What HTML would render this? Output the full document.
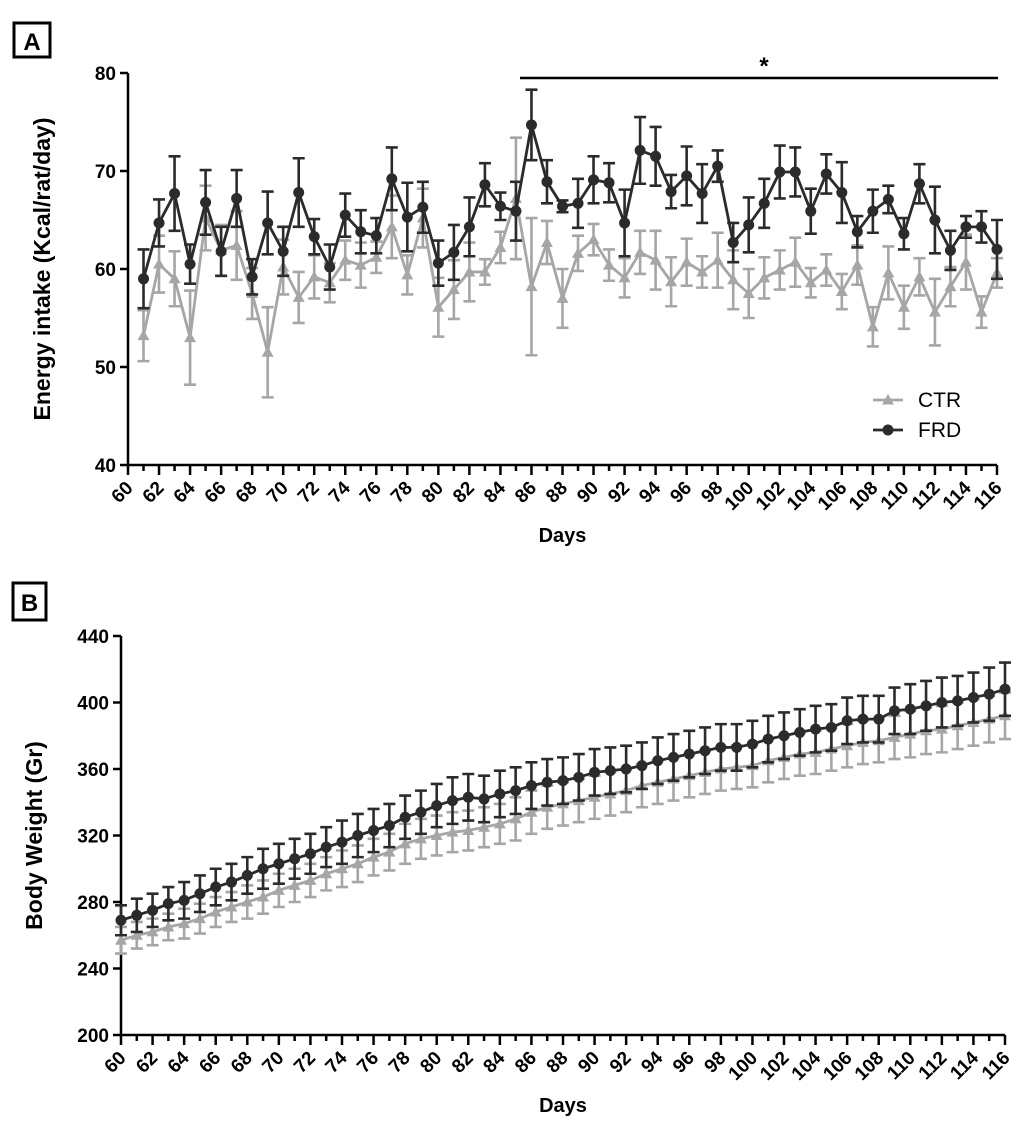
<!DOCTYPE html>
<html><head><meta charset="utf-8">
<style>
body{margin:0;background:#fff;font-family:"Liberation Sans",Arial,sans-serif;}
svg text{font-family:"Liberation Sans",Arial,sans-serif;font-weight:bold;}
</style></head>
<body>
<svg id="svg" width="1024" height="1132" viewBox="0 0 1024 1132" xmlns="http://www.w3.org/2000/svg">
<g><rect x="14" y="23" width="36" height="34" fill="none" stroke="#000" stroke-width="3"/><text x="32" y="50" font-size="24" text-anchor="middle">A</text></g>
<g><rect x="13" y="583" width="33" height="37" fill="none" stroke="#000" stroke-width="3"/><text x="29.5" y="611" font-size="24" text-anchor="middle">B</text></g>
<g id="chartA"></g>
<g id="chartB"></g>
</svg>
<script>
const daysA = [];for(let d=61;d<=116;d++)daysA.push(d);
const frdIntake = [59.0,64.7,67.7,60.5,66.8,61.8,67.2,59.2,64.7,61.8,67.8,63.3,60.2,65.5,63.8,63.4,69.2,65.3,66.3,60.6,61.7,64.3,68.6,66.4,65.9,74.7,68.9,66.4,66.7,69.1,68.8,64.7,72.1,71.5,67.9,69.5,67.7,70.5,62.7,64.5,66.7,69.9,69.9,65.9,69.7,67.8,63.8,65.9,67.1,63.6,68.7,65.0,61.9,64.3,64.3,62.0];
const frdIntakeErr = [3.0,2.4,3.8,2.0,3.3,2.5,2.9,1.8,3.2,2.5,3.5,1.8,2.3,2.2,2.2,1.8,3.2,3.5,2.6,2.3,2.8,3.0,2.2,1.4,3.0,3.6,2.2,0.6,2.5,2.4,2.0,3.4,3.4,3.0,1.7,3.0,3.0,1.6,2.0,2.8,2.5,2.7,2.5,2.3,2.0,3.1,1.6,2.2,1.4,1.6,2.0,3.4,2.0,1.1,1.6,3.0];
const ctrIntake = [53.2,60.5,59.0,53.0,65.2,61.9,62.4,57.5,51.5,60.2,57.1,59.2,58.6,60.9,60.4,61.2,64.3,59.4,65.2,56.1,57.9,59.7,59.7,62.2,67.2,58.2,62.7,57.0,61.6,63.0,60.4,59.1,61.7,60.9,58.7,60.7,59.7,60.9,58.9,57.5,59.1,59.9,60.7,58.6,59.9,57.7,60.4,54.1,59.6,56.1,59.2,55.6,58.2,60.7,55.6,59.6];
const ctrIntakeErr = [2.6,2.9,2.8,4.8,3.3,2.6,3.5,2.6,4.6,2.8,2.6,2.2,2.0,2.0,2.3,1.6,3.2,2.0,3.0,3.0,3.0,3.0,1.3,1.6,6.2,7.0,2.2,3.0,1.8,1.6,1.6,2.0,2.2,3.0,2.5,2.4,1.6,2.8,3.0,2.5,2.1,2.0,2.5,1.5,1.6,1.8,2.0,2.0,2.7,2.2,1.9,3.4,2.0,2.8,1.6,1.5];
const yTicksA = [40,50,60,70,80];

const daysB = [];for(let d=60;d<=116;d++)daysB.push(d);
const frdWeight = [269,272,275,279,281,285,289,292,296,300,303,306,309,313,316,320,323,326,331,334,338,341,343,342,345,347,350,352,353,355,358,359,360,362,365,367,369,371,373,373,375,378,380,382,384,385,389,390,390,395,396,398,400,401,403,405,408];
const frdWeightErr = [9,10,10,10,11,11,11,11,11,12,12,12,12,12,13,13,13,13,13,13,13,14,14,14,14,14,14,14,14,14,14,14,14,14,14,14,14,14,14,14,14,14,14,14,14,14,14,14,14,14,15,15,15,15,15,16,16];
const ctrWeight = [257,260,262,265,267,270,274,277,280,283,287,290,293,297,300,303,307,310,315,318,320,322,323,325,327,330,334,337,339,341,343,345,347,350,352,354,356,358,360,361,362,365,367,369,370,372,374,376,377,379,381,383,384,386,388,390,392];
const ctrWeightErr = [8,8,8,8,9,9,9,9,10,10,10,10,10,10,11,11,11,11,12,12,12,12,12,12,12,13,13,13,13,13,13,13,13,13,13,13,13,13,13,13,13,13,13,13,13,13,13,13,13,13,14,14,14,14,14,14,14];
const yTicksB = [200,240,280,320,360,400,440];
const xTickDays = [];for(let d=60;d<=116;d++)xTickDays.push(d);

const NS='http://www.w3.org/2000/svg';
function mk(parent,tag,attrs){const e=document.createElementNS(NS,tag);for(const k in attrs)e.setAttribute(k,attrs[k]);parent.appendChild(e);return e;}

function drawChart(g,cfg){
  const X=d=>cfg.x0+(d-cfg.dmin)*(cfg.x1-cfg.x0)/(cfg.dmax-cfg.dmin);
  const Y=v=>cfg.y0-(v-cfg.vmin)*(cfg.y0-cfg.y1)/(cfg.vmax-cfg.vmin);
  const ax=mk(g,'path',{d:`M${cfg.x0},${cfg.y1}V${cfg.y0}H${cfg.x1}`,stroke:'#000','stroke-width':2.5,fill:'none'});
  
  
  cfg.yTicks.forEach(t=>{
    mk(g,'line',{x1:cfg.x0-8,x2:cfg.x0,y1:Y(t),y2:Y(t),stroke:'#000','stroke-width':2.5});
    const tx=mk(g,'text',{x:cfg.x0-12,y:Y(t)+7,'font-size':19,'text-anchor':'end'});
    tx.textContent=t;
    
    
  });
  xTickDays.forEach(d=>{
    const major=(d%2===0);
    mk(g,'line',{x1:X(d),x2:X(d),y1:cfg.y0,y2:cfg.y0+(major?10:6),stroke:'#000','stroke-width':2.5});
    if(major){
      const tx=mk(g,'text',{x:0,y:0,'font-size':19,'text-anchor':'end',transform:`translate(${X(d)+6},${cfg.y0+24}) rotate(-45)`});
      tx.textContent=d;
      
      
    }
  });
  const xt=mk(g,'text',{x:(cfg.x0+cfg.x1)/2,y:cfg.y0+77,'font-size':20,'text-anchor':'middle'});
  xt.textContent='Days';
  
  
  const yt=mk(g,'text',{x:0,y:0,'font-size':23,'text-anchor':'middle',transform:`translate(${cfg.ytx},${(cfg.y0+cfg.y1)/2}) rotate(-90)`});
  yt.textContent=cfg.ytitle;
  
  
  cfg.series.forEach(s=>{
    const sg=mk(g,'g',{});
    
    
    s.vals.forEach((v,i)=>{
      const x=X(s.days[i]),e=s.err[i];
      const hi=Y(v+e),lo=Y(v-e);
      const p=mk(sg,'path',{d:`M${x},${hi}V${lo}M${x-6},${hi}H${x+6}M${x-6},${lo}H${x+6}`,stroke:s.color,'stroke-width':2.6,fill:'none'});
      
      
    });
    const d=s.vals.map((v,i)=>(i?'L':'M')+X(s.days[i])+','+Y(v)).join('');
    const ln=mk(sg,'path',{d,stroke:s.color,'stroke-width':2.8,fill:'none'});
    
    
    s.vals.forEach((v,i)=>{
      const x=X(s.days[i]),y=Y(v);
      let m;
      if(s.marker==='circle')m=mk(sg,'circle',{cx:x,cy:y,r:5.5,fill:s.color});
      else m=mk(sg,'path',{d:`M${x},${y-6}L${x+6},${y+4.5}L${x-6},${y+4.5}Z`,fill:s.color});
      
      
    });
  });
}
const gA=document.getElementById('chartA'),gB=document.getElementById('chartB');
drawChart(gA,{x0:128,x1:997,y0:465,y1:73,dmin:60,dmax:116,vmin:40,vmax:80,yTicks:yTicksA,ytitle:'Energy intake (Kcal/rat/day)',ytx:50,
  series:[{name:'CTR',days:daysA,vals:ctrIntake,err:ctrIntakeErr,color:'#a6a6a8',marker:'tri'},{name:'FRD',days:daysA,vals:frdIntake,err:frdIntakeErr,color:'#2b2b2b',marker:'circle'}]});
drawChart(gB,{x0:121,x1:1005,y0:1035,y1:636,dmin:60,dmax:116,vmin:200,vmax:440,yTicks:yTicksB,ytitle:'Body Weight (Gr)',ytx:42,
  series:[{name:'CTR',days:daysB,vals:ctrWeight,err:ctrWeightErr,color:'#a6a6a8',marker:'tri'},{name:'FRD',days:daysB,vals:frdWeight,err:frdWeightErr,color:'#2b2b2b',marker:'circle'}]});
const sb=mk(gA,'line',{x1:520,x2:998,y1:78,y2:78,stroke:'#000','stroke-width':2.5});


const st=mk(gA,'text',{x:764,y:74,'font-size':24,'text-anchor':'middle'});
st.textContent='*';


const lg=mk(gA,'g',{});


[['CTR','#a6a6a8','tri',400],['FRD','#2b2b2b','circle',430]].forEach(([n,c,m,y])=>{
  mk(lg,'line',{x1:873,x2:903,y1:y,y2:y,stroke:c,'stroke-width':2.8});
  if(m==='circle')mk(lg,'circle',{cx:888,cy:y,r:5.5,fill:c});
  else mk(lg,'path',{d:`M888,${y-6}L894,${y+4.5}L882,${y+4.5}Z`,fill:c});
  const t=mk(lg,'text',{x:918,y:y+7,'font-size':21});
  t.style.fontWeight='normal';
  t.textContent=n;
  
  
});
</script>
</body></html>
